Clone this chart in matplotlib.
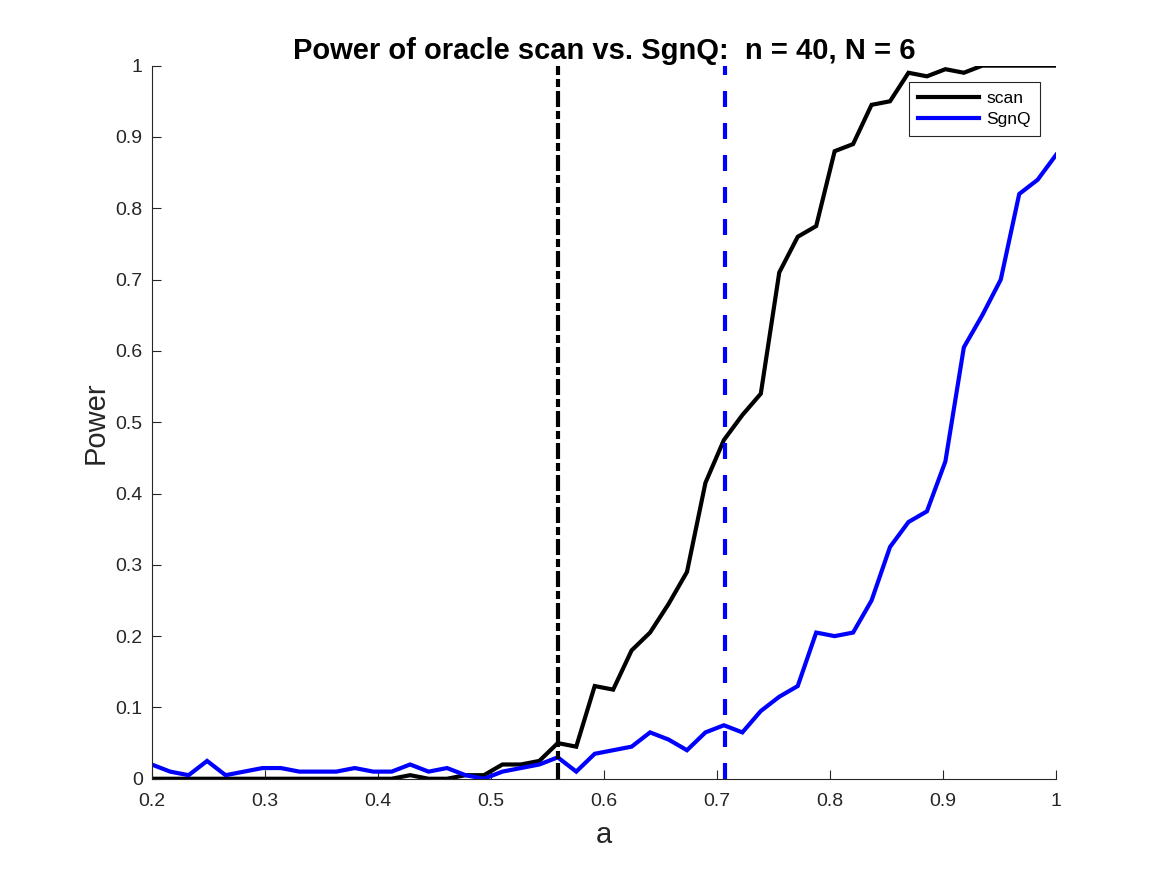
import numpy as np
import matplotlib.pyplot as plt

plt.rcParams['font.family'] = ['Liberation Sans', 'DejaVu Sans']

# signal strength grid (50 evenly spaced values between 0.2 and 1)
a_vals = np.linspace(0.2, 1.0, 50)

scan_power = [0, 0, 0, 0, 0, 0, 0, 0, 0, 0,
              0, 0, 0, 0, 0.005, 0, 0, 0.005, 0.005, 0.02,
              0.02, 0.025, 0.05, 0.045, 0.13, 0.125, 0.18, 0.205, 0.245, 0.29,
              0.415, 0.475, 0.51, 0.54, 0.71, 0.76, 0.775, 0.88, 0.89, 0.945,
              0.95, 0.99, 0.985, 0.995, 0.99, 1.0, 1.0, 1.0, 1.0, 1.0]

sgnq_power = [0.02, 0.01, 0.005, 0.025, 0.005, 0.01, 0.015, 0.015, 0.01, 0.01,
              0.01, 0.015, 0.01, 0.01, 0.02, 0.01, 0.015, 0.005, 0.0, 0.01,
              0.015, 0.02, 0.03, 0.01, 0.035, 0.04, 0.045, 0.065, 0.055, 0.04,
              0.065, 0.075, 0.065, 0.095, 0.115, 0.13, 0.205, 0.2, 0.205, 0.25,
              0.325, 0.36, 0.375, 0.445, 0.605, 0.65, 0.70, 0.82, 0.84, 0.875]

# detection boundaries
scan_boundary = 0.559
sgnq_boundary = 0.7071

LW = 3.0          # points
PX = 0.72         # points per pixel at dpi 100
AX_COLOR = '#262626'


def dash(*px):
	# dash lengths given in pixels, converted to linewidth units
	return tuple(p * PX / LW for p in px)


fig = plt.figure(figsize=(11.67, 8.75), dpi=100)
ax = fig.add_axes([0.13, 0.11, 0.775, 0.815])

ax.plot(a_vals, scan_power, color='black', lw=LW, label='scan', solid_joinstyle='miter')
ax.plot(a_vals, sgnq_power, color='blue', lw=LW, label='SgnQ', solid_joinstyle='miter')

ax.axvline(scan_boundary, color='black', lw=LW,
           linestyle=(0, dash(16, 4, 8, 4)))
ax.axvline(sgnq_boundary, color='blue', lw=LW,
           linestyle=(0, dash(16, 16)))

ax.set_xlim(0.2, 1.0)
ax.set_ylim(0, 1.0)
ax.set_xticks(np.arange(0.2, 1.01, 0.1))
ax.set_xticklabels(['0.2', '0.3', '0.4', '0.5', '0.6', '0.7', '0.8', '0.9', '1'])
ax.set_yticks(np.arange(0, 1.01, 0.1))
ax.set_yticklabels(['0', '0.1', '0.2', '0.3', '0.4', '0.5', '0.6', '0.7', '0.8', '0.9', '1'])

for side in ['top', 'right']:
	ax.spines[side].set_visible(False)
for side in ['left', 'bottom']:
	ax.spines[side].set_color(AX_COLOR)
	ax.spines[side].set_linewidth(0.8)

ax.tick_params(direction='in', length=6.5, width=0.8, colors=AX_COLOR,
               labelsize=14)
ax.tick_params(axis='x', pad=10)
ax.tick_params(axis='y', pad=6.5)

ax.set_xlabel('a', fontsize=21, color=AX_COLOR, labelpad=8)
ax.set_ylabel('Power', fontsize=21, color=AX_COLOR, labelpad=4)
ax.set_title('Power of oracle scan vs. SgnQ:  n = 40, N = 6',
             fontsize=21, fontweight='bold', pad=5)

leg = ax.legend(loc='upper right', bbox_to_anchor=(0.982, 0.977), fontsize=12.6,
                frameon=True, fancybox=False, framealpha=1, edgecolor='#262626',
                handlelength=3.5, handletextpad=0.4, borderpad=0.5,
                labelspacing=0.35, borderaxespad=0)
leg.get_frame().set_linewidth(0.8)

fig.savefig('out.png', dpi=100)
